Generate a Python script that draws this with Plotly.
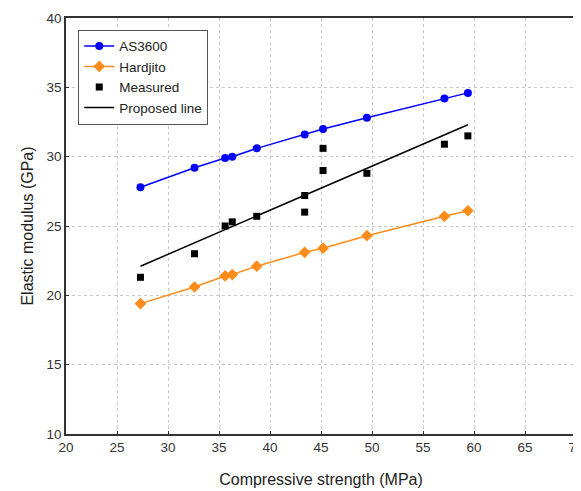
import plotly.graph_objects as go

# Data
strength = [27.3, 32.6, 35.6, 36.3, 38.7, 43.4, 45.2, 49.5, 57.1, 59.4]
as3600 = [27.8, 29.2, 29.9, 30.0, 30.6, 31.6, 32.0, 32.8, 34.2, 34.6]
hardjito = [19.4, 20.6, 21.4, 21.5, 22.1, 23.1, 23.4, 24.3, 25.7, 26.1]
measured_x = [27.3, 32.6, 35.6, 36.3, 38.7, 43.4, 43.4, 45.2, 45.2, 49.5, 57.1, 59.4]
measured_y = [21.3, 23.0, 25.0, 25.3, 25.7, 27.2, 26.0, 30.6, 29.0, 28.8, 30.9, 31.5]
proposed_x = [27.3, 59.4]
proposed_y = [22.1, 32.3]
x_ticks = [20, 25, 30, 35, 40, 45, 50, 55, 60, 65, 70]
y_ticks = [10, 15, 20, 25, 30, 35, 40]

fig = go.Figure()
fig.add_trace(go.Scatter(x=strength, y=as3600, mode="lines+markers", name="AS3600",
                         line=dict(color="#0000FF", width=1.5),
                         marker=dict(symbol="circle", size=8, color="#0000FF")))
fig.add_trace(go.Scatter(x=strength, y=hardjito, mode="lines+markers", name="Hardjito",
                         line=dict(color="#FF8C1A", width=1.5),
                         marker=dict(symbol="diamond", size=9, color="#FF8C1A")))
fig.add_trace(go.Scatter(x=measured_x, y=measured_y, mode="markers", name="Measured",
                         marker=dict(symbol="square", size=7, color="black")))
fig.add_trace(go.Scatter(x=proposed_x, y=proposed_y, mode="lines", name="Proposed line",
                         line=dict(color="black", width=1.5)))

axis_common = dict(showline=True, linecolor="#333333", linewidth=1.5, mirror=True,
                   ticks="inside", ticklen=3, tickcolor="#333333",
                   showgrid=True, gridcolor="#C8C8C8", griddash="dot", gridwidth=1,
                   zeroline=False, tickfont=dict(size=13.5, color="#333333"),
                   automargin=False, ticklabeloverflow="allow")

fig.update_xaxes(range=[20, 70], tickvals=x_ticks, **axis_common,
                 title=dict(text="Compressive strength (MPa)", font=dict(size=16, color="#222222"),
                            standoff=20))
fig.update_yaxes(range=[10, 40], tickvals=y_ticks, **axis_common,
                 title=dict(text="Elastic modulus (GPa)", font=dict(size=16, color="#222222"),
                            standoff=9))

fig.update_layout(
    width=573, height=483,
    margin=dict(l=58, r=5, t=10, b=57),
    paper_bgcolor="white", plot_bgcolor="white",
    font=dict(family="Liberation Sans, Arial, sans-serif", color="#222222"),
    legend=dict(x=0.024, y=0.972, xanchor="left", yanchor="top",
                bgcolor="white", bordercolor="#555555", borderwidth=1,
                font=dict(size=13.5, color="#222222"), tracegroupgap=0,
                itemwidth=30),
    showlegend=True,
)

fig.write_html("out.html")
